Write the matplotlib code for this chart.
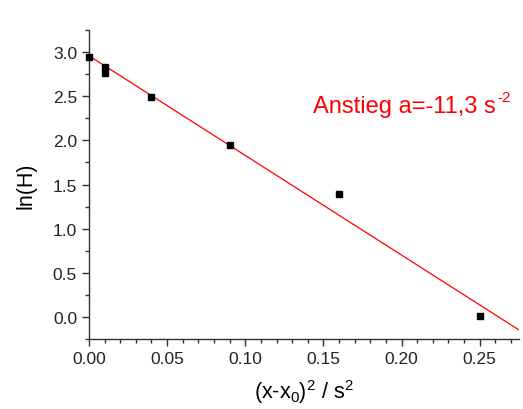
import numpy as np
import matplotlib
matplotlib.use('Agg')
import matplotlib.pyplot as plt
from matplotlib.ticker import MultipleLocator, FormatStrFormatter

plt.rcParams['font.family'] = ['Liberation Sans', 'DejaVu Sans']
plt.rcParams['mathtext.fontset'] = 'custom'
plt.rcParams['mathtext.rm'] = 'Liberation Sans'
plt.rcParams['mathtext.it'] = 'Liberation Sans'
plt.rcParams['mathtext.default'] = 'rm'

# measured points
x_sq = [0.0, 0.01, 0.01, 0.04, 0.09, 0.16, 0.25]
ln_h = [2.95, 2.83, 2.77, 2.49, 1.95, 1.39, 0.01]

# linear fit
slope = -11.3
intercept = 2.96
x_fit = np.array([0.0, 0.275])

fig = plt.figure(figsize=(5.23, 4.10), dpi=100)
ax = fig.add_axes([0.170, 0.171, 0.822, 0.753])

ax.plot(x_fit, intercept + slope * x_fit, color='red', lw=0.9, zorder=2)
ax.plot(x_sq, ln_h, 's', color='black', ms=5, zorder=3, clip_on=False)

ax.set_xlim(0, 0.275)
ax.set_ylim(-0.25, 3.25)
ax.xaxis.set_major_locator(MultipleLocator(0.05))
ax.xaxis.set_minor_locator(MultipleLocator(0.01))
ax.yaxis.set_major_locator(MultipleLocator(0.5))
ax.yaxis.set_minor_locator(MultipleLocator(0.25))
ax.xaxis.set_major_formatter(FormatStrFormatter('%.2f'))
ax.yaxis.set_major_formatter(FormatStrFormatter('%.1f'))

for s in ['top', 'right']:
    ax.spines[s].set_visible(False)
for s in ['left', 'bottom']:
    ax.spines[s].set_color('#333333')
    ax.spines[s].set_linewidth(1.0)

ax.tick_params(which='major', length=5, width=1, color='#333333', labelsize=12.5, labelcolor='#222222')
ax.tick_params(which='minor', length=3, width=1, color='#333333')

ax.set_xlabel('(x-x$_0$)$^2$ / s$^2$', fontsize=15.5, labelpad=8)
ax.set_ylabel('ln(H)', fontsize=15.5, labelpad=12)

# slope annotation, superscript placed by hand next to it
t = ax.text(0.1436, 2.32, 'Anstieg a=-11,3 s', color='red', fontsize=17,
            ha='left', va='baseline')
ax.annotate('-2', xy=(1.0, 0.62), xycoords=t, xytext=(1.0, 0), textcoords='offset points',
            color='red', fontsize=11, ha='left', va='bottom')

plt.savefig('out.png', dpi=100)
